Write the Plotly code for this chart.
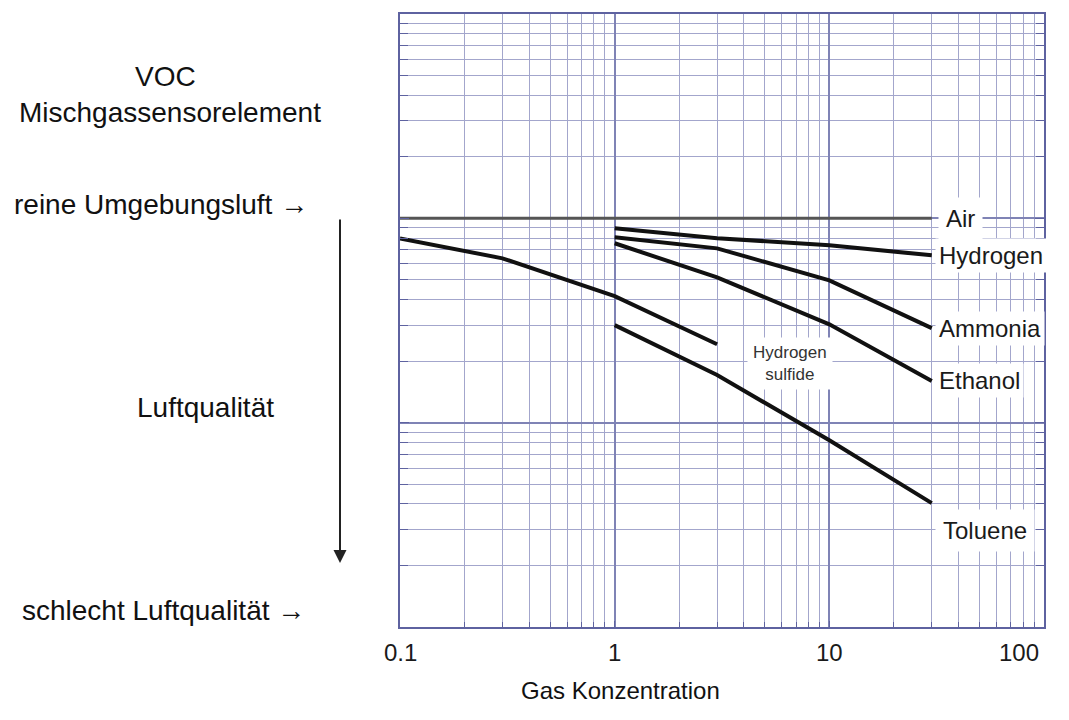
import math
import plotly.graph_objects as go

# ---- data ----
air_x = [0.1, 30]
air_y = [1.0, 1.0]

hydrogen_x = [1, 3, 10, 30]
hydrogen_y = [0.894, 0.80, 0.738, 0.659]

ammonia_x = [1, 3, 10, 30]
ammonia_y = [0.807, 0.713, 0.497, 0.290]

ethanol_x = [1, 3, 10, 30]
ethanol_y = [0.755, 0.514, 0.303, 0.160]

h2s_x = [0.1, 0.3, 1, 3]
h2s_y = [0.798, 0.637, 0.416, 0.242]

toluene_x = [1, 3, 10, 30]
toluene_y = [0.300, 0.171, 0.082, 0.0404]

x_tick_vals = [0.1, 1, 10, 100]
x_tick_text = ["0.1", "1", "10", "100"]

FONT = "Liberation Sans, Arial, sans-serif"
GRID = "#a3a6cc"
MAJOR = "#7f83b5"
BORDER = "#5e62a0"

# the page body has an 8px default margin; the figure is sized to fit the window
W, H = 1061, 712
OFF = 8

fig = go.Figure()

fig.add_trace(go.Scatter(x=air_x, y=air_y, mode="lines",
                         line=dict(color="#555555", width=3), name="Air"))
for xs, ys, nm in [(hydrogen_x, hydrogen_y, "Hydrogen"),
                   (ammonia_x, ammonia_y, "Ammonia"),
                   (ethanol_x, ethanol_y, "Ethanol"),
                   (h2s_x, h2s_y, "Hydrogen sulfide"),
                   (toluene_x, toluene_y, "Toluene")]:
    fig.add_trace(go.Scatter(x=xs, y=ys, mode="lines",
                             line=dict(color="#111111", width=4), name=nm))

# curve end labels
lbl = dict(font=dict(family=FONT, size=24, color="#1a1a1a"),
           bgcolor="white", showarrow=False, xref="x", yref="y",
           xanchor="left", yanchor="middle", borderpad=3)
fig.add_annotation(x=math.log10(air_x[-1]), y=math.log10(air_y[-1]), text="Air",
                   xshift=6, **{**lbl, "borderpad": 7})
fig.add_annotation(x=math.log10(hydrogen_x[-1]), y=math.log10(hydrogen_y[-1]),
                   text="Hydrogen", xshift=3, **lbl)
fig.add_annotation(x=math.log10(ammonia_x[-1]), y=math.log10(ammonia_y[-1]),
                   text="Ammonia", xshift=3, **lbl)
fig.add_annotation(x=math.log10(ethanol_x[-1]), y=math.log10(ethanol_y[-1]),
                   text="Ethanol", xshift=3, **lbl)
fig.add_annotation(x=math.log10(toluene_x[-1]), y=math.log10(toluene_y[-1]),
                   text="Toluene", xshift=3, yshift=-27, **{**lbl, "borderpad": 7})
fig.add_annotation(x=math.log10(6.55), y=math.log10(0.195),
                   text="Hydrogen<br>sulfide", showarrow=False, xref="x", yref="y",
                   xanchor="center", yanchor="middle",
                   font=dict(family=FONT, size=17, color="#333333"),
                   bgcolor="white", borderpad=5)

# left side texts (positions given in window pixels, converted to paper units)
def px(p):
    return (p - 400) / 644.0
def py(p):
    return (627 - p) / 613.0

side = dict(xref="paper", yref="paper", showarrow=False, yanchor="middle",
            font=dict(family=FONT, size=28, color="#111111"))
fig.add_annotation(x=px(165), y=py(77), text="VOC", xanchor="center", **side)
fig.add_annotation(x=px(170), y=py(112), text="Mischgassensorelement", xanchor="center", **side)
fig.add_annotation(x=px(12), y=py(205), text="reine Umgebungsluft →", xanchor="left", **side)
fig.add_annotation(x=px(205), y=py(407), text="Luftqualität", xanchor="center", **side)
fig.add_annotation(x=px(20), y=py(610), text="schlecht Luftqualität →", xanchor="left", **side)
fig.add_annotation(x=px(620), y=py(690), text="Gas Konzentration", xanchor="center",
                   xref="paper", yref="paper", showarrow=False, yanchor="middle",
                   font=dict(family=FONT, size=24, color="#111111"))

# x tick labels (as text placed on the axis values; the last one kept inside the window)
for i, (v, t) in enumerate(zip(x_tick_vals, x_tick_text)):
    last = i == len(x_tick_vals) - 1
    fig.add_annotation(x=math.log10(v), y=py(652), xref="x", yref="paper",
                       text=t, showarrow=False, yanchor="middle",
                       xanchor="right" if last else "center",
                       xshift=-3 if last else 0,
                       font=dict(family=FONT, size=24, color="#1a1a1a"))

# vertical arrow
fig.add_annotation(x=px(340), y=py(563), xref="paper", yref="paper",
                   ax=0, ay=-345, axref="pixel", ayref="pixel",
                   showarrow=True, arrowhead=2, arrowsize=1.3, arrowwidth=2,
                   arrowcolor="#222222", text="")

fig.update_layout(
    width=W, height=H,
    margin=dict(l=400 - OFF, r=25, t=14 - OFF, b=93),
    paper_bgcolor="white", plot_bgcolor="white",
    showlegend=False,
    font=dict(family=FONT),
    xaxis=dict(type="log", range=[-1, 2],
               tickvals=x_tick_vals, showticklabels=False,
               showgrid=True, gridcolor=MAJOR, gridwidth=1.5,
               ticks="inside", ticklen=6, tickcolor=BORDER,
               showline=True, linecolor=BORDER, linewidth=2, mirror=True,
               zeroline=False, automargin=False,
               minor=dict(dtick="D1", showgrid=True, gridcolor=GRID, gridwidth=1,
                          ticks="inside", ticklen=5, tickcolor=BORDER)),
    yaxis=dict(type="log", range=[-2, 1],
               showticklabels=False,
               showgrid=True, gridcolor=MAJOR, gridwidth=1.5,
               ticks="inside", ticklen=9, tickcolor=BORDER,
               showline=True, linecolor=BORDER, linewidth=2, mirror="ticks",
               zeroline=False, dtick=1, automargin=False,
               minor=dict(dtick="D1", showgrid=True, gridcolor=GRID, gridwidth=1,
                          ticks="inside", ticklen=8, tickcolor=BORDER)),
)

fig.write_html("out.html")
